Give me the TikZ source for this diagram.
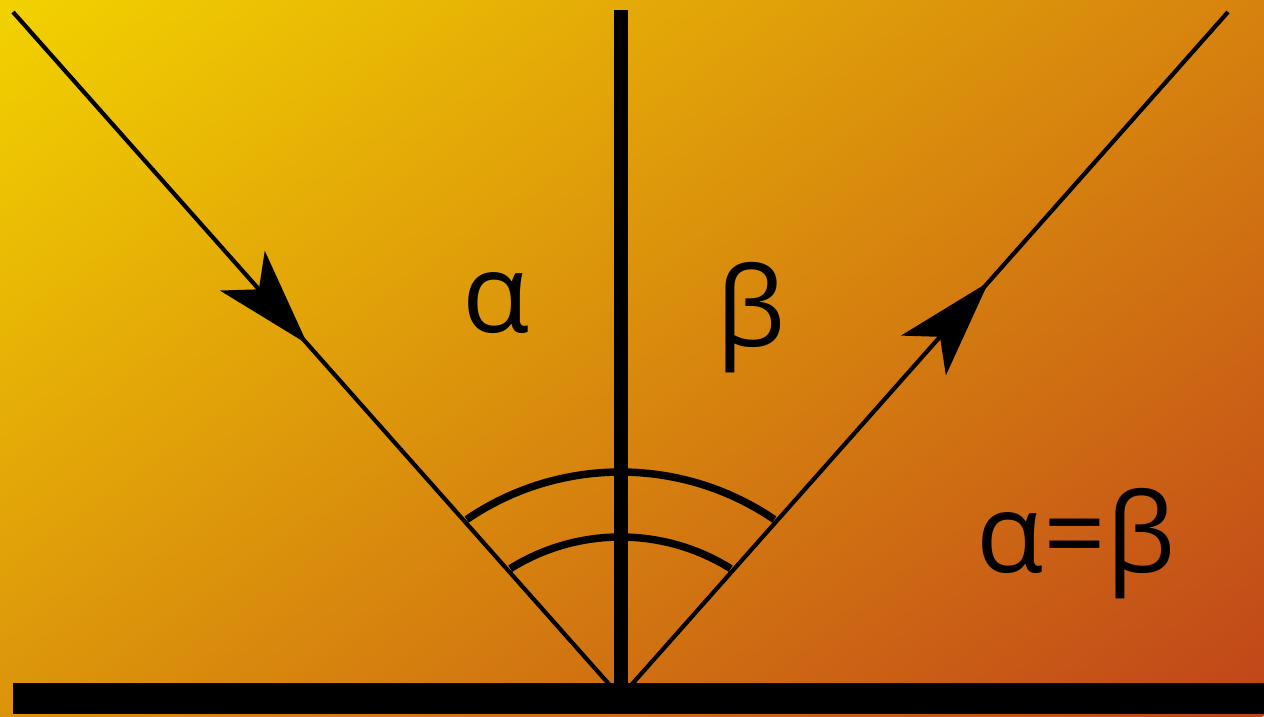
\documentclass[tikz,border=0pt]{standalone}
\usepackage{fontspec}
\setmainfont{Open Sans}
\usetikzlibrary{decorations.markings}
\definecolor{bgA}{RGB}{242,210,0}
\definecolor{bgB}{RGB}{192,68,26}
\begin{document}
\begin{tikzpicture}[x=1pt,y=-1pt,
  ray/.style={line width=4.2pt},
  arrowmark/.style={postaction={decorate},
    decoration={markings, mark=at position #1 with {\fill (0,0) -- (-98,30) -- (-73,0) -- (-98,-30) -- cycle;}}},
  anglearc/.style={line width=7.5pt},
  lbl/.style={inner sep=0pt, anchor=base, font=\fontsize{110}{110}\selectfont}]
\useasboundingbox (0,0) rectangle (1264,716);
% background gradient
\begin{scope}
  \clip (0,0) rectangle (1264,716);
  \begin{scope}[transform canvas={rotate=-54.5}]
    \shade[left color=bgA, right color=bgB] (0,-1600) rectangle (1316.5,1600);
  \end{scope}
\end{scope}
% rays
\coordinate (i1) at (13,12);
\coordinate (i2) at (611.5,687);
\coordinate (r1) at (629.5,687);
\coordinate (r2) at (1228,12);
\draw[ray, arrowmark=0.492] (i1) -- (i2);
\draw[ray, arrowmark=0.600] (r1) -- (r2);
% normal
\coordinate (n1) at (620.5,10);
\coordinate (n2) at (620.5,690);
\draw[line width=14pt] (n1) -- (n2);
% mirror
\fill (13,683) rectangle (1264,714);
% angle arcs
\coordinate (C) at (620.5,745);
\draw[anglearc] (C) ++(-124.3:273) arc[start angle=-124.3, end angle=-55.7, radius=273];
\draw[anglearc] (C) ++(-122:208) arc[start angle=-122, end angle=-58, radius=208];
% labels
\node[lbl] (alpha) at (496,332) {α};
\node[lbl] (beta) at (751,346) {β};
\node[lbl] (eq) at (1076,572) {α=β};
\end{tikzpicture}
\end{document}
